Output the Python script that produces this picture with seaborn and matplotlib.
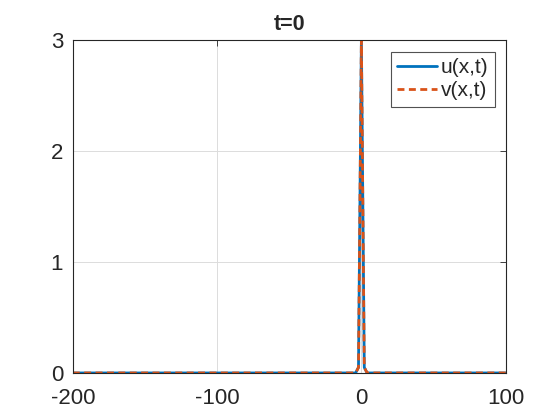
import numpy as np
import pandas as pd
import seaborn as sns
import matplotlib.pyplot as plt

# sampled solution at t=0 (narrow spike at x=0)
x_vals = [-200, -4, -2, 0, 2, 4, 100]
u_vals = [0, 0, 0.05, 3, 0.05, 0, 0]
v_vals = [0, 0, 0.05, 3, 0.05, 0, 0]

x_ticks = [-200, -100, 0, 100]
y_ticks = [0, 1, 2, 3]

sns.set_style("white")
plt.rcParams['font.family'] = ['Liberation Sans', 'DejaVu Sans']
plt.rcParams['axes.unicode_minus'] = False

df = pd.DataFrame({'x': x_vals, 'u': u_vals, 'v': v_vals})

fig = plt.figure(figsize=(5.6, 4.2), dpi=100)
ax = fig.add_axes([0.130, 0.112, 0.773, 0.793])

sns.lineplot(data=df, x='x', y='u', ax=ax, color='#0072BD', lw=2, label='u(x,t)')
sns.lineplot(data=df, x='x', y='v', ax=ax, color='#D95319', lw=2,
             linestyle=(0, (2.5, 1.6)), label='v(x,t)')

ax.set_xlim(-200, 100)
ax.set_ylim(0, 3)
ax.set_xticks(x_ticks)
ax.set_yticks(y_ticks)
ax.set_xlabel('')
ax.set_ylabel('')
ax.grid(True, color='#dcdcdc', lw=0.7)
ax.tick_params(direction='in', length=4, width=0.6, colors='#262626',
               labelsize=16, top=True, right=True)
ax.tick_params(axis='x', pad=11)
ax.tick_params(axis='y', pad=7)
for s in ax.spines.values():
    s.set_color('#262626')
    s.set_linewidth(0.8)
ax.set_title('t=0', fontsize=15.5, fontweight='bold', y=1.0, pad=7)

leg = ax.legend(loc='upper right', bbox_to_anchor=(0.975, 0.964),
                borderaxespad=0, fontsize=15, frameon=True, fancybox=False,
                handlelength=1.9, handletextpad=0.2, borderpad=0.3,
                labelspacing=0.2)
leg.get_frame().set_edgecolor('#262626')
leg.get_frame().set_linewidth(0.8)

fig.savefig('out.png', dpi=100)
